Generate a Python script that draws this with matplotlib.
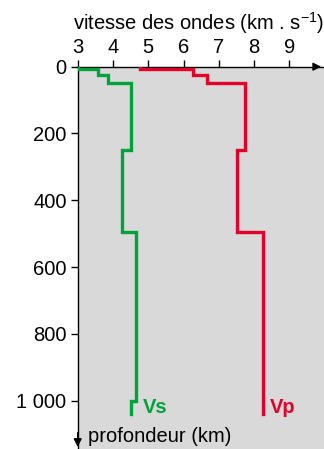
import numpy as np
import matplotlib
matplotlib.use('Agg')
import matplotlib.pyplot as plt

plt.rcParams['font.family'] = ['Liberation Sans', 'DejaVu Sans']
plt.rcParams['mathtext.default'] = 'regular'

# Limites des couches (km) et vitesses par couche (km/s)
profondeur = [0, 7, 25, 50, 250, 495, 1000, 1040]
vs = [3.0, 3.58, 3.86, 4.50, 4.26, 4.65, 4.51]
vp = [4.77, 6.28, 6.66, 7.73, 7.51, 8.26, 8.26]
xticks = [3, 4, 5, 6, 7, 8, 9]
yticks = [0, 200, 400, 600, 800, 1000]
ytick_labels = ['0', '200', '400', '600', '800', '1 000']

vert = '#00A23C'
rouge = '#E3002A'


def escalier(vitesses, bornes):
    # profil en marches : chaque couche = segment vertical
    x = np.repeat(vitesses, 2)
    y = np.column_stack([bornes[:-1], bornes[1:]]).ravel()
    return x, y


fig = plt.figure(figsize=(3.24, 4.49), dpi=100)
ax = fig.add_axes([0.2398, 0.0, 0.7602, 0.8514])
ax.set_facecolor('#D9D9D9')

x, y = escalier(vs, profondeur)
ax.plot(x, y, color=vert, linewidth=2.4, solid_joinstyle='miter', zorder=3)
x, y = escalier(vp, profondeur)
ax.plot(x, y, color=rouge, linewidth=2.4, solid_joinstyle='miter', zorder=3)

ax.set_xlim(3, 9.98)
ax.set_ylim(1145, 0)

ax.xaxis.tick_top()
ax.set_xticks(xticks)
ax.set_yticks(yticks)
ax.set_yticklabels(ytick_labels)
ax.tick_params(axis='both', direction='out', length=5, width=1, labelsize=14.5,
               colors='black')
ax.tick_params(axis='x', pad=2)
ax.tick_params(axis='y', pad=3)

for s in ['right', 'bottom']:
    ax.spines[s].set_visible(False)
for s in ['top', 'left']:
    ax.spines[s].set_linewidth(1)

# fleches des axes
ax.annotate('', xy=(1.0, 1.0), xytext=(0.95, 1.0), xycoords='axes fraction',
            arrowprops=dict(arrowstyle='-|>', color='black', lw=1,
                            mutation_scale=12), annotation_clip=False)
ax.annotate('', xy=(0.0, -0.002), xytext=(0.0, 0.05), xycoords='axes fraction',
            arrowprops=dict(arrowstyle='-|>', color='black', lw=1,
                            mutation_scale=12), annotation_clip=False)

ax.text(4.85, 1037, 'Vs', color=vert, fontsize=14.5, fontweight='bold',
        ha='left', va='baseline')
ax.text(8.45, 1037, 'Vp', color=rouge, fontsize=14.5, fontweight='bold',
        ha='left', va='baseline')

fig.text(73 / 324, 1 - 30 / 449, 'vitesse des ondes (km . s$^{-1}$)',
         fontsize=14.5, ha='left', va='baseline')
fig.text(88 / 324, 1 - 442 / 449, 'profondeur (km)', fontsize=14.5,
         ha='left', va='baseline')

fig.savefig('out.png', dpi=100)
